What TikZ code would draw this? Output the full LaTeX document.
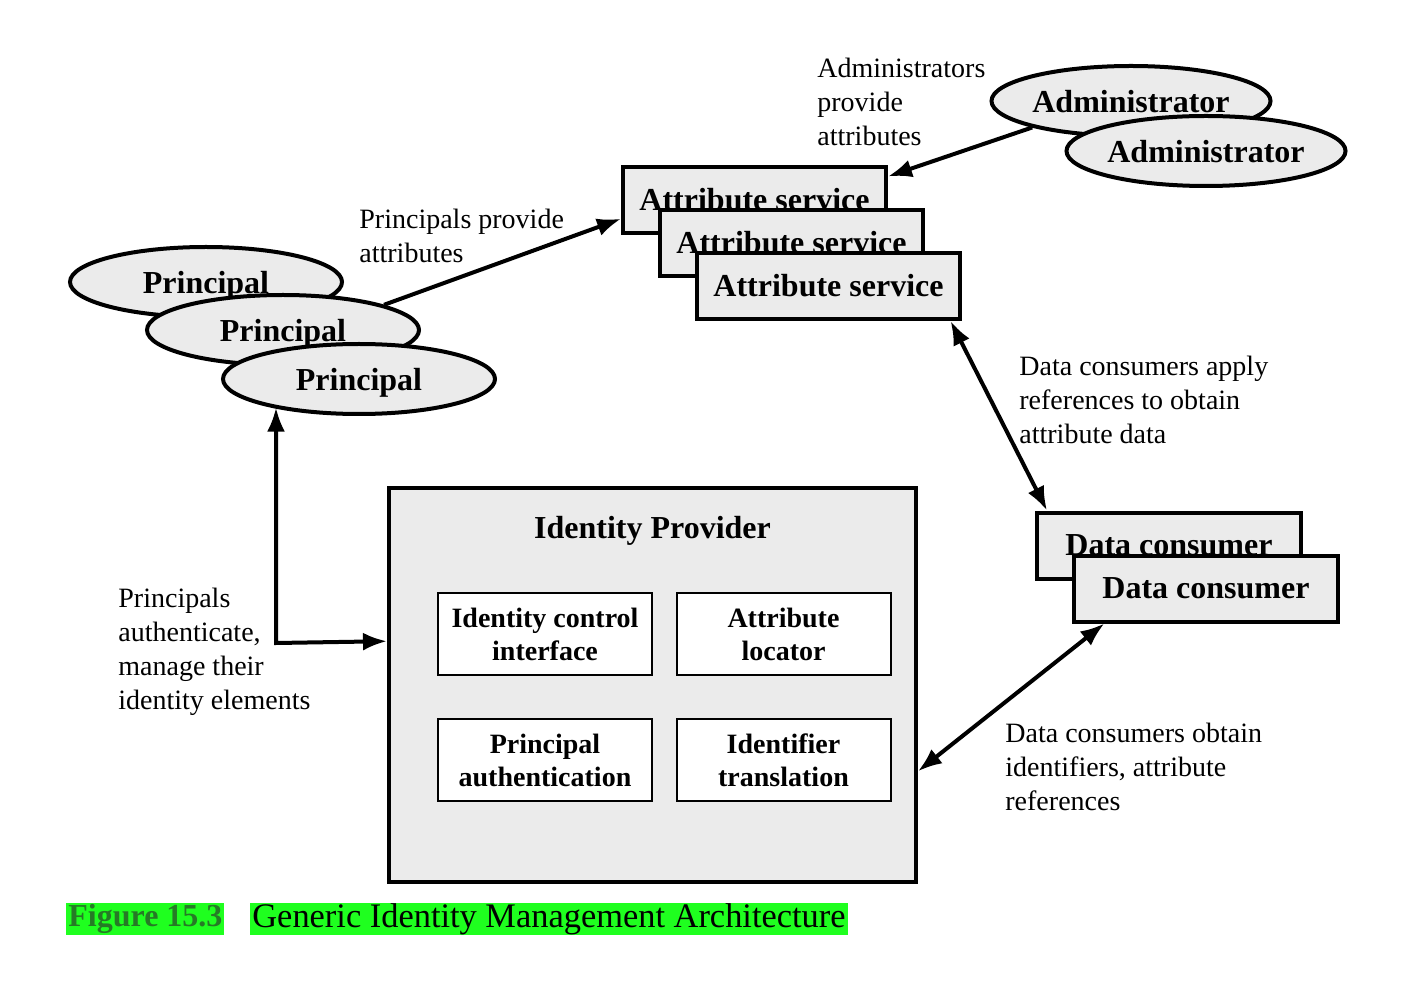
\documentclass[tikz,border=0pt]{standalone}
\usepackage{fontspec}
\setmainfont{Liberation Serif}
\usetikzlibrary{calc,shapes.geometric,arrows.meta}
\definecolor{boxgray}{rgb}{0.92,0.92,0.92}
\definecolor{marker}{rgb}{0.12,1,0.12}
\definecolor{figgreen}{rgb}{0.15,0.48,0.15}
\tikzset{>={Latex[length=12pt,width=9pt]}, % big filled tips
  block/.style={draw, line width=2pt, fill=boxgray, inner sep=0pt,
    font={\bfseries\fontsize{16}{19}\selectfont}},
  actor/.style={block, ellipse, text depth=0pt,
    minimum width=136pt, minimum height=35pt},
  service/.style={block, minimum width=131.5pt, minimum height=33pt},
  part/.style={draw, line width=1pt, fill=white, inner sep=0pt,
    minimum width=107pt, minimum height=41pt, align=center,
    font={\bfseries\fontsize{14}{16.5}\selectfont}},
  link/.style={line width=2pt},
  note/.style={align=left, anchor=west, inner sep=0pt,
    font={\fontsize{14}{17}\selectfont}},
  hilite/.style={fill=marker, anchor=west, inner xsep=1pt, inner ysep=0pt,
    minimum height=16pt, font={\fontsize{17.2}{20}\selectfont}},
  id diagram/.style={x=0.5pt, y=-0.5pt},
}

\begin{document}
\begin{tikzpicture}[id diagram]
    \useasboundingbox (0,0) rectangle (1422,988);

    % principals
    \node [actor] at (206,282) (p1) {Principal};
    \node [actor] at ($(p1)+(77,48)$) (p2) {Principal};
    \node [actor] at ($(p2)+(76,49)$) (p3) {Principal};

    % administrators
    \node [actor] at (1131,101) (a1) {Administrator};
    \node [actor] at ($(a1)+(75,50)$) (a2) {Administrator};

    % attribute services
    \node [service] at (754.5,200) (as1) {Attribute service};
    \node [service] at ($(as1)+(37,43)$) (as2) {Attribute service};
    \node [service] at ($(as2)+(37,43)$) (as3) {Attribute service};

    % data consumers
    \node [service, minimum width=132pt] at (1169,545.5) (dc1) {Data consumer};
    \node [service, minimum width=132pt] at ($(dc1)+(37,43)$) (dc2) {Data consumer};

    % identity provider
    \node [block, minimum width=263.5pt, minimum height=197pt]
    at (652.5,685) (idp) {};
    \node [font={\bfseries\fontsize{16}{19}\selectfont}]
    at ($(idp.north)+(0,45)$) (idp title) {Identity Provider};
    \node [part] at (545,634) (ici) {Identity control\\interface};
    \node [part] at (783.5,634) (al) {Attribute\\locator};
    \node [part] at (545,760) (pa) {Principal\\authentication};
    \node [part] at (783.5,760) (it) {Identifier\\translation};

    % connectors
    \draw [->, link] (p2.14) -- (as1.188);
    \draw [->, link] (a1.195) -- (as1.10);
    \draw [<->, link] (as3.-16) -- (dc1.164);
    \draw [<->, link] (dc2.199) -- (idp.-18);
    \coordinate (auth in) at ($(idp.north west)!0.39!(idp.south west)$);
    \coordinate (auth bend) at (276,643);
    \draw [<->, link] (auth bend |- p3.198) -- (auth bend) -- (auth in);

    % notes
    \node [note] at (817,102) (admin note) {Administrators\\provide\\attributes};
    \node [note] at (359,236) (prin note) {Principals provide\\attributes};
    \node [note] at (1019,400) (apply note)
    {Data consumers apply\\references to obtain\\attribute data};
    \node [note] at (118,651.5) (auth note)
    {Principals\\authenticate,\\manage their\\identity elements};
    \node [note] at (1005,767) (obtain note)
    {Data consumers obtain\\identifiers, attribute\\references};

    % caption
    \node [hilite, text=figgreen, font={\bfseries\fontsize{16}{20}\selectfont}]
    at (66,919) (fig num) {Figure 15.3};
    \node [hilite] at (250,919) (fig title) {Generic Identity Management Architecture};

\end{tikzpicture}
\end{document}
